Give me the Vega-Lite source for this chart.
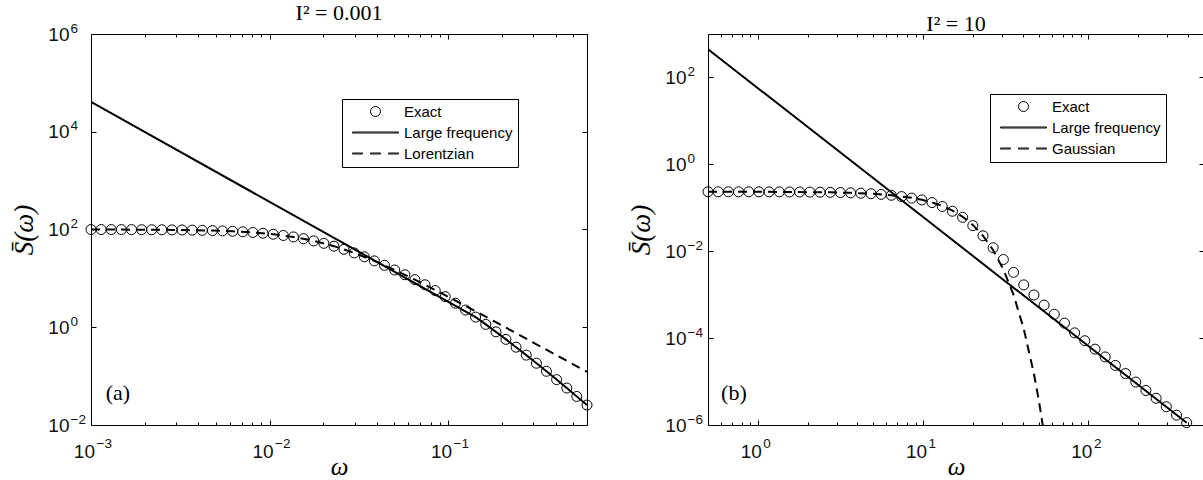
{
  "$schema": "https://vega.github.io/schema/vega-lite/v6.json",
  "background": "white",
  "padding": {"left": 10, "top": 1, "right": 2, "bottom": 2},
  "spacing": 32,
  "resolve": {"scale": {"shape": "independent"}, "legend": {"shape": "independent"}},
  "datasets": {
    "exactA": [
      {"w":0.001,"s":99.77,"series":"Exact"},{"w":0.00114,"s":99.77,"series":"Exact"},{"w":0.001298,"s":99.54,"series":"Exact"},{"w":0.001479,"s":99.54,"series":"Exact"},{"w":0.001686,"s":99.31,"series":"Exact"},{"w":0.001921,"s":99.08,"series":"Exact"},{"w":0.002188,"s":98.86,"series":"Exact"},{"w":0.002493,"s":98.63,"series":"Exact"},{"w":0.002841,"s":98.17,"series":"Exact"},{"w":0.003236,"s":97.72,"series":"Exact"},{"w":0.003687,"s":97.05,"series":"Exact"},{"w":0.004201,"s":96.16,"series":"Exact"},{"w":0.004786,"s":95.06,"series":"Exact"},{"w":0.005453,"s":93.76,"series":"Exact"},{"w":0.006213,"s":92.04,"series":"Exact"},{"w":0.007079,"s":89.74,"series":"Exact"},{"w":0.008065,"s":87.1,"series":"Exact"},{"w":0.009188,"s":83.95,"series":"Exact"},{"w":0.01049,"s":79.98,"series":"Exact"},{"w":0.01194,"s":75.51,"series":"Exact"},{"w":0.01361,"s":70.47,"series":"Exact"},{"w":0.01551,"s":64.71,"series":"Exact"},{"w":0.01767,"s":58.48,"series":"Exact"},{"w":0.02014,"s":52.12,"series":"Exact"},{"w":0.02296,"s":45.6,"series":"Exact"},{"w":0.02612,"s":39.26,"series":"Exact"},{"w":0.02979,"s":33.19,"series":"Exact"},{"w":0.03396,"s":27.67,"series":"Exact"},{"w":0.03864,"s":22.8,"series":"Exact"},{"w":0.04406,"s":18.49,"series":"Exact"},{"w":0.05023,"s":14.86,"series":"Exact"},{"w":0.05728,"s":11.86,"series":"Exact"},{"w":0.06516,"s":9.419,"series":"Exact"},{"w":0.0743,"s":7.396,"series":"Exact"},{"w":0.08472,"s":5.636,"series":"Exact"},{"w":0.09638,"s":4.227,"series":"Exact"},{"w":0.1099,"s":3.105,"series":"Exact"},{"w":0.1253,"s":2.249,"series":"Exact"},{"w":0.1426,"s":1.614,"series":"Exact"},{"w":0.1626,"s":1.146,"series":"Exact"},{"w":0.1854,"s":0.8054,"series":"Exact"},{"w":0.2109,"s":0.5649,"series":"Exact"},{"w":0.2404,"s":0.3908,"series":"Exact"},{"w":0.2742,"s":0.2692,"series":"Exact"},{"w":0.3126,"s":0.1837,"series":"Exact"},{"w":0.3556,"s":0.1256,"series":"Exact"},{"w":0.4055,"s":0.08492,"series":"Exact"},{"w":0.4624,"s":0.05702,"series":"Exact"},{"w":0.526,"s":0.03837,"series":"Exact"},{"w":0.6,"s":0.02559,"series":"Exact"}
    ],
    "lfA": [
      {"w":0.001,"s":40740},{"w":0.1426,"s":1.614},{"w":0.1626,"s":1.146},{"w":0.1854,"s":0.8054},{"w":0.2109,"s":0.5649},{"w":0.2404,"s":0.3908},{"w":0.2742,"s":0.2692},{"w":0.3126,"s":0.1837},{"w":0.3556,"s":0.1256},{"w":0.4055,"s":0.08492},{"w":0.4624,"s":0.05702},{"w":0.526,"s":0.03837},{"w":0.6,"s":0.02559}
    ],
    "lorA": [
      {"w":0.001,"s":99.77},{"w":0.001686,"s":99.31},{"w":0.002841,"s":98.17},{"w":0.004786,"s":95.06},{"w":0.006213,"s":92.04},{"w":0.008065,"s":87.1},{"w":0.01049,"s":79.98},{"w":0.01361,"s":70.47},{"w":0.01767,"s":58.48},{"w":0.02296,"s":45.6},{"w":0.02979,"s":33.19},{"w":0.03864,"s":22.8},{"w":0.05023,"s":14.86},{"w":0.06516,"s":9.419},{"w":0.08472,"s":5.781},{"w":0.1099,"s":3.524},{"w":0.1426,"s":2.123},{"w":0.1854,"s":1.268},{"w":0.2404,"s":0.7568},{"w":0.3126,"s":0.4487},{"w":0.4055,"s":0.2673},{"w":0.526,"s":0.1589},{"w":0.6,"s":0.1225}
    ],
    "labA": [{"w":0.00121,"s":0.033,"label":"(a)"}],
    "exactB": [
      {"w":0.5,"s":0.2339,"series":"Exact"},{"w":0.5763,"s":0.2333,"series":"Exact"},{"w":0.6642,"s":0.2333,"series":"Exact"},{"w":0.7655,"s":0.2333,"series":"Exact"},{"w":0.8818,"s":0.2333,"series":"Exact"},{"w":1.016,"s":0.2328,"series":"Exact"},{"w":1.171,"s":0.2323,"series":"Exact"},{"w":1.35,"s":0.2323,"series":"Exact"},{"w":1.556,"s":0.2312,"series":"Exact"},{"w":1.793,"s":0.2307,"series":"Exact"},{"w":2.065,"s":0.2296,"series":"Exact"},{"w":2.381,"s":0.228,"series":"Exact"},{"w":2.744,"s":0.2265,"series":"Exact"},{"w":3.161,"s":0.2239,"series":"Exact"},{"w":3.643,"s":0.2208,"series":"Exact"},{"w":4.198,"s":0.2163,"series":"Exact"},{"w":4.838,"s":0.2109,"series":"Exact"},{"w":5.575,"s":0.2032,"series":"Exact"},{"w":6.424,"s":0.1941,"series":"Exact"},{"w":7.403,"s":0.1811,"series":"Exact"},{"w":8.531,"s":0.1667,"series":"Exact"},{"w":9.831,"s":0.1514,"series":"Exact"},{"w":11.33,"s":0.1318,"series":"Exact"},{"w":13.06,"s":0.1072,"series":"Exact"},{"w":15.05,"s":0.08318,"series":"Exact"},{"w":17.34,"s":0.06026,"series":"Exact"},{"w":19.98,"s":0.0389,"series":"Exact"},{"w":23.03,"s":0.02265,"series":"Exact"},{"w":26.53,"s":0.01202,"series":"Exact"},{"w":30.58,"s":0.006457,"series":"Exact"},{"w":35.24,"s":0.003266,"series":"Exact"},{"w":40.61,"s":0.001679,"series":"Exact"},{"w":46.8,"s":0.0009817,"series":"Exact"},{"w":53.93,"s":0.0005741,"series":"Exact"},{"w":62.15,"s":0.0003532,"series":"Exact"},{"w":71.63,"s":0.0002213,"series":"Exact"},{"w":82.54,"s":0.0001321,"series":"Exact"},{"w":95.13,"s":0.0000871,"series":"Exact"},{"w":109.6,"s":0.00005572,"series":"Exact"},{"w":126.3,"s":0.00003681,"series":"Exact"},{"w":145.6,"s":0.0000235,"series":"Exact"},{"w":167.7,"s":0.00001528,"series":"Exact"},{"w":193.3,"s":0.000009727,"series":"Exact"},{"w":222.7,"s":0.000006237,"series":"Exact"},{"w":256.7,"s":0.000004121,"series":"Exact"},{"w":295.8,"s":0.000002636,"series":"Exact"},{"w":340.9,"s":0.000001687,"series":"Exact"},{"w":392.9,"s":0.000001132,"series":"Exact"}
    ],
    "lfB": [
      {"w":0.5,"s":446.7},{"w":10,"s":0.06109},{"w":392.9,"s":0.000001122}
    ],
    "gauB": [
      {"w":0.5,"s":0.2339},{"w":0.8818,"s":0.2333},{"w":1.556,"s":0.2312},{"w":2.744,"s":0.2265},{"w":3.643,"s":0.2208},{"w":4.838,"s":0.2109},{"w":6.424,"s":0.195},{"w":8.531,"s":0.1698},{"w":9.831,"s":0.1528},{"w":11.33,"s":0.133},{"w":13.06,"s":0.1104},{"w":15.05,"s":0.0863},{"w":17.34,"s":0.06223},{"w":19.98,"s":0.04027},{"w":23.03,"s":0.02265},{"w":26.53,"s":0.01054},{"w":30.58,"s":0.003811},{"w":35.24,"s":0.0009886},{"w":40.61,"s":0.0001641},{"w":46.8,"s":0.00001514},{"w":50,"s":0.000003873},{"w":54,"s":0.00000062}
    ],
    "labB": [{"w":0.6,"s":0.00000385,"label":"(b)"}]
  },
  "hconcat": [
    {
      "width": 496,
      "height": 391,
      "title": {"text": "I² = 0.001", "font": "Liberation Serif", "fontSize": 22, "fontWeight": "normal", "color": "black", "frame": "group", "anchor": "middle", "baseline": "alphabetic", "offset": -21},
      "resolve": {"axis": {"x": "independent", "y": "independent"}},
      "layer": [
        {
          "data": {"name": "exactA"},
          "mark": {"type": "point", "filled": false, "size": 100, "strokeWidth": 1, "opacity": 1, "color": "black"},
          "encoding": {
            "x": {"field": "w", "type": "quantitative", "scale": {"type": "log", "domain": [0.001, 0.6]},
              "axis": {"orient": "bottom", "values": [0.001, 0.01, 0.1], "labelExpr": "'10'", "ticks": false, "tickSize": 0, "labelAlign": "right", "labelBaseline": "alphabetic", "labelOffset": 3.5, "labelPadding": 32, "labelFontSize": 19, "title": "ω", "titleFont": "Liberation Serif", "titleFontSize": 25, "titleFontStyle": "italic", "titleBaseline": "alphabetic", "titlePadding": 13}},
            "y": {"field": "s", "type": "quantitative", "scale": {"type": "log", "domain": [0.01, 1000000]},
              "axis": {"orient": "left", "values": [0.01, 1, 100, 10000, 1000000], "labelExpr": "'10'", "ticks": false, "tickSize": 0, "labelAlign": "right", "labelBaseline": "middle", "labelPadding": 22, "labelFontSize": 19, "title": "S̄(ω)", "titleFont": "Liberation Serif", "titleFontSize": 27, "titleFontStyle": "italic", "titlePadding": 9}},
            "shape": {"field": "series", "type": "nominal",
              "scale": {"domain": ["Exact", "Large frequency", "Lorentzian"], "range": ["circle", "M-4.6,-0.1L4.6,-0.1L4.6,0.1L-4.6,0.1Z", "M-4.6,-0.1L-2.6,-0.1L-2.6,0.1L-4.6,0.1ZM-1,-0.1L1,-0.1L1,0.1L-1,0.1ZM2.6,-0.1L4.6,-0.1L4.6,0.1L2.6,0.1Z"]},
              "legend": {"orient": "none", "legendX": 251, "legendY": 65, "title": null, "padding": 5, "strokeColor": "black", "fillColor": "white", "cornerRadius": 0, "labelFont": "Liberation Sans", "labelFontSize": 15, "labelColor": "black", "symbolSize": 100, "symbolStrokeWidth": 1, "symbolStrokeColor": "black", "symbolFillColor": "transparent", "symbolOffset": 21, "labelOffset": 21, "rowPadding": 5}}
          }
        },
        {
          "data": {"name": "lfA"},
          "mark": {"type": "line", "strokeWidth": 2, "clip": true, "color": "black"},
          "encoding": {
            "x": {"field": "w", "type": "quantitative", "scale": {"type": "log", "domain": [0.001, 0.6]},
              "axis": {"orient": "bottom", "values": [0.001, 0.01, 0.1], "labelExpr": "replace('' + round(log(datum.value)/LN10), '-', '−')", "ticks": false, "tickSize": 0, "labelAlign": "left", "labelBaseline": "alphabetic", "labelOffset": 5, "labelPadding": 22, "labelFontSize": 13.5, "title": null}},
            "y": {"field": "s", "type": "quantitative", "scale": {"type": "log", "domain": [0.01, 1000000]},
              "axis": {"orient": "left", "values": [0.01, 1, 100, 10000, 1000000], "labelExpr": "replace('' + round(log(datum.value)/LN10), '-', '−')", "ticks": false, "tickSize": 0, "labelAlign": "left", "labelBaseline": "alphabetic", "labelOffset": -2, "labelPadding": 21, "labelFontSize": 13.5, "title": null}}
          }
        },
        {
          "data": {"name": "lorA"},
          "mark": {"type": "line", "strokeWidth": 2, "strokeDash": [9, 6], "clip": true, "color": "black"},
          "encoding": {
            "x": {"field": "w", "type": "quantitative", "scale": {"type": "log", "domain": [0.001, 0.6]},
              "axis": {"orient": "bottom", "maxExtent": 0, "values": [0.001,0.002,0.003,0.004,0.005,0.006,0.007,0.008,0.009,0.01,0.02,0.03,0.04,0.05,0.06,0.07,0.08,0.09,0.1,0.2,0.3,0.4,0.5], "labels": false, "tickColor": "black", "tickWidth": 1, "tickSize": {"condition": {"test": "abs(log(datum.value)/LN10 - round(log(datum.value)/LN10)) < 0.000001", "value": -5}, "value": -3}, "title": null}},
            "y": {"field": "s", "type": "quantitative", "scale": {"type": "log", "domain": [0.01, 1000000]},
              "axis": {"orient": "left", "maxExtent": 0, "values": [0.01, 1, 100, 10000, 1000000], "labels": false, "tickColor": "black", "tickWidth": 1, "tickSize": -5, "title": null}}
          }
        },
        {
          "data": {"name": "labA"},
          "mark": {"type": "text", "font": "Liberation Serif", "fontSize": 22, "align": "left", "baseline": "alphabetic", "color": "black"},
          "encoding": {
            "x": {"field": "w", "type": "quantitative", "scale": {"type": "log", "domain": [0.001, 0.6]},
              "axis": {"orient": "top", "maxExtent": 0, "values": [0.001,0.002,0.003,0.004,0.005,0.006,0.007,0.008,0.009,0.01,0.02,0.03,0.04,0.05,0.06,0.07,0.08,0.09,0.1,0.2,0.3,0.4,0.5], "labels": false, "tickColor": "black", "tickWidth": 1, "tickSize": {"condition": {"test": "abs(log(datum.value)/LN10 - round(log(datum.value)/LN10)) < 0.000001", "value": -5}, "value": -3}, "title": null}},
            "y": {"field": "s", "type": "quantitative", "scale": {"type": "log", "domain": [0.01, 1000000]},
              "axis": {"orient": "right", "maxExtent": 0, "values": [0.01, 1, 100, 10000, 1000000], "labels": false, "tickColor": "black", "tickWidth": 1, "tickSize": -5, "title": null}},
            "text": {"field": "label", "type": "nominal"}
          }
        }
      ]
    },
    {
      "width": 496,
      "height": 391,
      "title": {"text": "I² = 10", "font": "Liberation Serif", "fontSize": 22, "fontWeight": "normal", "color": "black", "frame": "group", "anchor": "middle", "baseline": "alphabetic", "offset": -19},
      "resolve": {"axis": {"x": "independent", "y": "independent"}},
      "layer": [
        {
          "data": {"name": "exactB"},
          "mark": {"type": "point", "filled": false, "size": 100, "strokeWidth": 1, "opacity": 1, "color": "black"},
          "encoding": {
            "x": {"field": "w", "type": "quantitative", "scale": {"type": "log", "domain": [0.5, 500]},
              "axis": {"orient": "bottom", "values": [1, 10, 100], "labelExpr": "'10'", "ticks": false, "tickSize": 0, "labelAlign": "right", "labelBaseline": "alphabetic", "labelOffset": 3.5, "labelPadding": 32, "labelFontSize": 19, "title": "ω", "titleFont": "Liberation Serif", "titleFontSize": 25, "titleFontStyle": "italic", "titleBaseline": "alphabetic", "titlePadding": 13}},
            "y": {"field": "s", "type": "quantitative", "scale": {"type": "log", "domain": [0.000001, 1000]},
              "axis": {"orient": "left", "values": [0.000001, 0.0001, 0.01, 1, 100], "labelExpr": "'10'", "ticks": false, "tickSize": 0, "labelAlign": "right", "labelBaseline": "middle", "labelPadding": 22, "labelFontSize": 19, "title": "S̄(ω)", "titleFont": "Liberation Serif", "titleFontSize": 27, "titleFontStyle": "italic", "titlePadding": 9}},
            "shape": {"field": "series", "type": "nominal",
              "scale": {"domain": ["Exact", "Large frequency", "Gaussian"], "range": ["circle", "M-4.6,-0.1L4.6,-0.1L4.6,0.1L-4.6,0.1Z", "M-4.6,-0.1L-2.6,-0.1L-2.6,0.1L-4.6,0.1ZM-1,-0.1L1,-0.1L1,0.1L-1,0.1ZM2.6,-0.1L4.6,-0.1L4.6,0.1L2.6,0.1Z"]},
              "legend": {"orient": "none", "legendX": 282, "legendY": 60, "title": null, "padding": 5, "strokeColor": "black", "fillColor": "white", "cornerRadius": 0, "labelFont": "Liberation Sans", "labelFontSize": 15, "labelColor": "black", "symbolSize": 100, "symbolStrokeWidth": 1, "symbolStrokeColor": "black", "symbolFillColor": "transparent", "symbolOffset": 21, "labelOffset": 21, "rowPadding": 5}}
          }
        },
        {
          "data": {"name": "lfB"},
          "mark": {"type": "line", "strokeWidth": 2, "clip": true, "color": "black"},
          "encoding": {
            "x": {"field": "w", "type": "quantitative", "scale": {"type": "log", "domain": [0.5, 500]},
              "axis": {"orient": "bottom", "values": [1, 10, 100], "labelExpr": "replace('' + round(log(datum.value)/LN10), '-', '−')", "ticks": false, "tickSize": 0, "labelAlign": "left", "labelBaseline": "alphabetic", "labelOffset": 5, "labelPadding": 22, "labelFontSize": 13.5, "title": null}},
            "y": {"field": "s", "type": "quantitative", "scale": {"type": "log", "domain": [0.000001, 1000]},
              "axis": {"orient": "left", "values": [0.000001, 0.0001, 0.01, 1, 100], "labelExpr": "replace('' + round(log(datum.value)/LN10), '-', '−')", "ticks": false, "tickSize": 0, "labelAlign": "left", "labelBaseline": "alphabetic", "labelOffset": -2, "labelPadding": 21, "labelFontSize": 13.5, "title": null}}
          }
        },
        {
          "data": {"name": "gauB"},
          "mark": {"type": "line", "strokeWidth": 2, "strokeDash": [9, 6], "clip": true, "color": "black"},
          "encoding": {
            "x": {"field": "w", "type": "quantitative", "scale": {"type": "log", "domain": [0.5, 500]},
              "axis": {"orient": "bottom", "maxExtent": 0, "values": [0.6,0.7,0.8,0.9,1,2,3,4,5,6,7,8,9,10,20,30,40,50,60,70,80,90,100,200,300,400], "labels": false, "tickColor": "black", "tickWidth": 1, "tickSize": {"condition": {"test": "abs(log(datum.value)/LN10 - round(log(datum.value)/LN10)) < 0.000001", "value": -5}, "value": -3}, "title": null}},
            "y": {"field": "s", "type": "quantitative", "scale": {"type": "log", "domain": [0.000001, 1000]},
              "axis": {"orient": "left", "maxExtent": 0, "values": [0.000001, 0.0001, 0.01, 1, 100], "labels": false, "tickColor": "black", "tickWidth": 1, "tickSize": -5, "title": null}}
          }
        },
        {
          "data": {"name": "labB"},
          "mark": {"type": "text", "font": "Liberation Serif", "fontSize": 22, "align": "left", "baseline": "alphabetic", "color": "black"},
          "encoding": {
            "x": {"field": "w", "type": "quantitative", "scale": {"type": "log", "domain": [0.5, 500]},
              "axis": {"orient": "top", "maxExtent": 0, "values": [0.6,0.7,0.8,0.9,1,2,3,4,5,6,7,8,9,10,20,30,40,50,60,70,80,90,100,200,300,400], "labels": false, "tickColor": "black", "tickWidth": 1, "tickSize": {"condition": {"test": "abs(log(datum.value)/LN10 - round(log(datum.value)/LN10)) < 0.000001", "value": -5}, "value": -3}, "title": null}},
            "y": {"field": "s", "type": "quantitative", "scale": {"type": "log", "domain": [0.000001, 1000]},
              "axis": {"orient": "right", "maxExtent": 0, "values": [0.000001, 0.0001, 0.01, 1, 100], "labels": false, "tickColor": "black", "tickWidth": 1, "tickSize": -5, "title": null}},
            "text": {"field": "label", "type": "nominal"}
          }
        }
      ]
    }
  ],
  "config": {
    "view": {"stroke": "black", "strokeWidth": 1},
    "axis": {"grid": false, "domain": false, "minExtent": 0, "tickColor": "black", "labelColor": "#111111", "labelFont": "Liberation Sans", "labelOverlap": false, "labelFlush": false, "labelBound": false, "titleColor": "black", "titleFontWeight": "normal"}
  }
}
